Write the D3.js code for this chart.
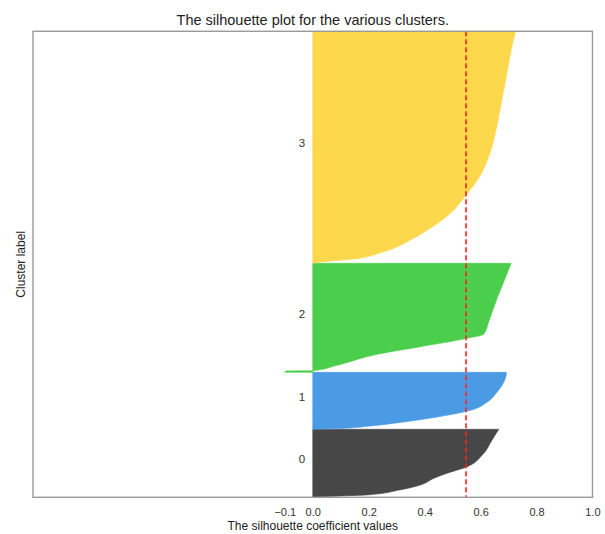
<!DOCTYPE html>
<html>
<head>
<meta charset="utf-8">
<script src="https://cdn.jsdelivr.net/npm/d3@7"></script>
<style>
  html, body { margin: 0; padding: 0; background: #fff; }
  svg { display: block; font-family: "Liberation Sans", Arial, sans-serif; }
</style>
</head>
<body>
<svg id="chart" width="605" height="534"></svg>
<script>
// ---- data ----
const clusterLabels = ["0", "1", "2", "3"];
const clusterSizes = [68, 57, 109, 232];
const clusterColors = ["#474747", "#4a9be4", "#4bce4b", "#fed84c"];
// sorted silhouette profiles: [sample rank within cluster, silhouette value]
const silhouette0 = [[0, 0.0], [1, 0.07], [2.3, 0.19], [7.3, 0.31], [12.3, 0.385], [19, 0.433], [24, 0.48], [30.6, 0.552], [42.3, 0.606], [57.3, 0.641], [68, 0.665]];
const silhouette1 = [[0, 0.0], [0.7, 0.087], [3.3, 0.206], [7.3, 0.325], [12.3, 0.445], [19, 0.564], [27.3, 0.624], [37.3, 0.659], [47.3, 0.683], [56, 0.692], [57, 0.692]];
const silhouette2 = [[0, -0.1], [1.4, -0.095], [1.6, 0.0], [7, 0.087], [18, 0.23], [25.6, 0.385], [34, 0.552], [38, 0.611], [50.6, 0.629], [74, 0.659], [90.6, 0.683], [109, 0.709]];
const silhouette3 = [[0, 0.0], [1, 0.02], [4, 0.135], [11.6, 0.254], [23.3, 0.349], [37.5, 0.433], [50, 0.492], [66.6, 0.543], [86, 0.595], [111.6, 0.635], [138.3, 0.659], [165, 0.677], [191.6, 0.695], [218.3, 0.713], [232, 0.725]];
const silhouetteProfiles = [silhouette0, silhouette1, silhouette2, silhouette3];
const silhouetteAvg = 0.548;
const xTicks = [-0.1, 0, 0.2, 0.4, 0.6, 0.8, 1.0];
const xDomain = [-1, 1];
const titleText = "The silhouette plot for the various clusters.";
const xLabelText = "The silhouette coefficient values";
const yLabelText = "Cluster label";

// ---- layout ----
const svg = d3.select("#chart");
const plot = { left: 33, right: 592.5, top: 31.3, bottom: 497.3 };
const totalSamples = d3.sum(clusterSizes);

const x = d3.scaleLinear().domain(xDomain).range([plot.left, plot.right]);
const y = d3.scaleLinear().domain([0, totalSamples]).range([plot.bottom, plot.top]);

const offsets = [];
let acc = 0;
clusterSizes.forEach(s => { offsets.push(acc); acc += s; });

const g = svg.append("g");

// silhouette areas
silhouetteProfiles.forEach((prof, i) => {
  const area = d3.area()
    .y(d => y(offsets[i] + d[0]))
    .x0(x(0))
    .x1(d => x(d[1]))
    .curve(d3.curveMonotoneY);
  g.append("path")
    .attr("d", area(prof))
    .attr("fill", clusterColors[i])
    .attr("stroke", clusterColors[i])
    .attr("stroke-width", 0.6);
  // cluster label at x = -0.05, middle of cluster (baseline)
  g.append("text")
    .attr("x", x(-0.05))
    .attr("y", y(offsets[i] + clusterSizes[i] / 2))
    .attr("font-size", 11.5)
    .attr("fill", "#333")
    .text(clusterLabels[i]);
});

// average line
g.append("line")
  .attr("x1", x(silhouetteAvg)).attr("x2", x(silhouetteAvg))
  .attr("y1", plot.top).attr("y2", plot.bottom)
  .attr("stroke", "#ff2020")
  .attr("stroke-width", 1.6)
  .attr("stroke-dasharray", "5,3");

// frame
svg.append("rect")
  .attr("x", plot.left).attr("y", plot.top)
  .attr("width", plot.right - plot.left)
  .attr("height", plot.bottom - plot.top)
  .attr("fill", "none")
  .attr("stroke", "#9a9a9a")
  .attr("stroke-width", 1.4);

// x axis (labels only, no tick marks)
const xAxis = d3.axisBottom(x)
  .tickValues(xTicks)
  .tickSize(0)
  .tickPadding(0)
  .tickFormat(d => d3.format(".1f")(d).replace("-", "\u2212"));
const ax = svg.append("g")
  .attr("transform", `translate(0,${plot.bottom})`)
  .call(xAxis);
ax.select(".domain").remove();
ax.selectAll("text")
  .attr("font-size", 11)
  .attr("font-family", "Liberation Sans, Arial, sans-serif")
  .attr("fill", "#333")
  .attr("dy", null)
  .attr("y", 18.3);

// title
svg.append("text")
  .attr("x", (plot.left + plot.right) / 2)
  .attr("y", 25)
  .attr("text-anchor", "middle")
  .attr("font-size", 14.5)
  .attr("fill", "#222")
  .text(titleText);

// x label
svg.append("text")
  .attr("x", (plot.left + plot.right) / 2)
  .attr("y", 530)
  .attr("text-anchor", "middle")
  .attr("font-size", 12)
  .attr("fill", "#222")
  .text(xLabelText);

// y label
svg.append("text")
  .attr("transform", `translate(24.5,${(plot.top + plot.bottom) / 2}) rotate(-90)`)
  .attr("text-anchor", "middle")
  .attr("font-size", 12)
  .attr("fill", "#222")
  .text(yLabelText);
</script>
</body>
</html>
